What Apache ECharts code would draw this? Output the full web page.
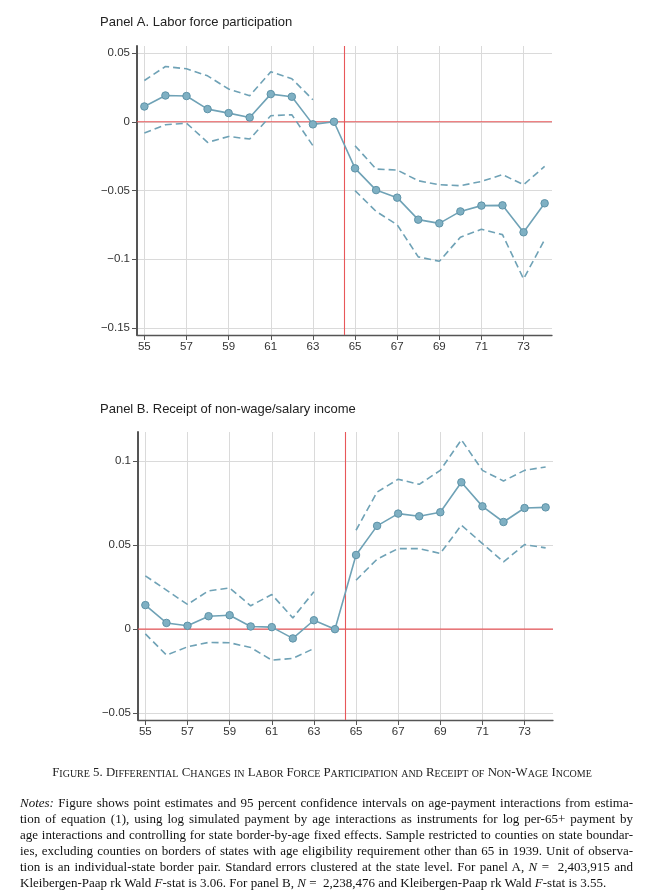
<!DOCTYPE html>
<html><head><meta charset="utf-8">
<script src="https://cdn.jsdelivr.net/npm/echarts@6/dist/echarts.min.js"></script>
<style>
html,body{margin:0;padding:0;background:#fff;}
#wrap{position:relative;width:653px;height:893px;overflow:hidden;}
#chart{position:absolute;left:0;top:0;width:653px;height:893px;}
#notes{position:absolute;left:20px;top:795px;width:613px;font-family:"Liberation Serif","Times New Roman",serif;font-size:13px;line-height:16px;color:#111;}
#notes div{text-align:justify;text-align-last:justify;white-space:nowrap;}
#notes div.last{text-align-last:left;}
</style></head>
<body><div id="wrap"><div id="chart"></div>
<div id="notes">
<div><i>Notes:</i> Figure shows point estimates and 95 percent confidence intervals on age-payment interactions from estima-</div>
<div>tion of equation (1), using log simulated payment by age interactions as instruments for log per-65+ payment by</div>
<div>age interactions and controlling for state border-by-age fixed effects. Sample restricted to counties on state boundar-</div>
<div>ies, excluding counties on borders of states with age eligibility requirement other than 65 in 1939. Unit of observa-</div>
<div>tion is an individual-state border pair. Standard errors clustered at the state level. For panel A, <i>N</i> = &nbsp;2,403,915 and</div>
<div class="last">Kleibergen-Paap rk Wald <i>F</i>-stat is 3.06. For panel B, <i>N</i> = &nbsp;2,238,476 and Kleibergen-Paap rk Wald <i>F</i>-stat is 3.55.</div>
</div></div>
<script>
// ---- data ----
const years = [55,56,57,58,59,60,61,62,63,64,65,66,67,68,69,70,71,72,73,74];
const lfpEst   = [0.0111,0.0191,0.0187,0.0092,0.0063,0.0031,0.0201,0.0182,-0.0019,0,-0.0339,-0.0497,-0.0552,-0.0712,-0.0739,-0.0652,-0.0610,-0.0608,-0.0804,-0.0593];
const lfpUpper = [0.0300,0.0402,0.0385,0.0334,0.0238,0.0189,0.0363,0.0313,0.0160,null,-0.0174,-0.0344,-0.0351,-0.0429,-0.0458,-0.0465,-0.0434,-0.0385,-0.0458,-0.0325];
const lfpLower = [-0.0082,-0.0022,-0.0010,-0.0150,-0.0107,-0.0126,0.0044,0.0051,-0.0174,null,-0.0501,-0.0652,-0.0749,-0.0983,-0.1015,-0.0840,-0.0782,-0.0821,-0.1143,-0.0858];
const incEst   = [0.0143,0.0037,0.0020,0.0077,0.0083,0.0016,0.0012,-0.0055,0.0053,0,0.0441,0.0614,0.0687,0.0671,0.0695,0.0873,0.0730,0.0637,0.0720,0.0724];
const incUpper = [0.0317,0.0232,0.0147,0.0228,0.0245,0.0139,0.0206,0.0067,0.0222,null,0.0588,0.0815,0.0891,0.0861,0.0944,0.1126,0.0944,0.0881,0.0944,0.0964];
const incLower = [-0.0028,-0.0154,-0.0105,-0.0079,-0.0081,-0.0109,-0.0184,-0.0174,-0.0115,null,0.0291,0.0416,0.0479,0.0479,0.0450,0.0618,0.0509,0.0400,0.0503,0.0483];
const xTicks = [55,57,59,61,63,65,67,69,71,73];
const yTicksA = [-0.15,-0.1,-0.05,0,0.05];
const yTicksB = [-0.05,0,0.05,0.1];
const xRange = [54.65, 74.35];
const yRangeA = [-0.1551, 0.0551];
const yRangeB = [-0.054, 0.1172];
const cutoff = 64.5;
const titleA = 'Panel A. Labor force participation';
const titleB = 'Panel B. Receipt of non-wage/salary income';
const caption = 'Figure 5. Differential Changes in Labor Force Participation and Receipt of Non-Wage Income';

// ---- styles ----
const C = '#6fa2b6', CD = '#5e93a8', RED = '#e8575a';
const sans = '"Liberation Sans", Arial, sans-serif';
const pairs = a => years.map((y,i)=>[y,a[i]]);
const fmtY = v => Math.abs(v) < 1e-9 ? '0' : (v < 0 ? '\u2212' : '') + String(+Math.abs(v).toFixed(2));

function xAxis(gi){
  return {type:'value', gridIndex:gi, min:xRange[0], max:xRange[1],
    axisLine:{show:true,onZero:false,lineStyle:{color:'#555',width:1.3}},
    axisTick:{show:true,length:5,customValues:xTicks,lineStyle:{color:'#555'}},
    axisLabel:{customValues:xTicks,margin:6,color:'#333',fontFamily:sans,fontSize:11.5,formatter:v=>String(v)},
    splitLine:{show:true,lineStyle:{color:'#dadada',width:1}}};
}
function yAxis(gi,range,ticks){
  return {type:'value', gridIndex:gi, min:range[0], max:range[1],
    axisLine:{show:true,onZero:false,lineStyle:{color:'#555',width:2}},
    axisTick:{show:true,length:5,customValues:ticks,lineStyle:{color:'#555'}},
    axisLabel:{customValues:ticks,margin:7,color:'#333',fontFamily:sans,fontSize:11.5,formatter:fmtY},
    splitLine:{show:true,lineStyle:{color:'#dadada',width:1}}};
}
function dashed(gi,arr){
  return {type:'line', xAxisIndex:gi, yAxisIndex:gi, data:pairs(arr), showSymbol:false, symbol:'none',
    connectNulls:false, lineStyle:{color:C,width:1.6,type:[7,4]}, silent:true, z:3};
}
function est(gi,arr){
  return {type:'line', xAxisIndex:gi, yAxisIndex:gi, data:pairs(arr), symbol:'circle', symbolSize:7.5,
    itemStyle:{color:'#7fb0c3',borderColor:CD,borderWidth:1}, lineStyle:{color:C,width:1.6}, z:4};
}
function refLine(gi,data){
  return {type:'line', xAxisIndex:gi, yAxisIndex:gi, data:data, symbol:'none', showSymbol:false,
    silent:true, z:2, clip:false, color:RED, itemStyle:{color:RED}, lineStyle:{color:RED,width:1.1,type:'solid'}};
}

// small caps rich text
function smallCaps(s){
  let out = '', cur = null, buf = '';
  const flush = () => { if (buf) out += '{' + cur + '|' + buf + '}'; buf = ''; };
  for (const ch of s){
    const st = (ch >= 'a' && ch <= 'z') ? 's' : 'b';
    if (st !== cur){ flush(); cur = st; }
    buf += st === 's' ? ch.toUpperCase() : ch;
  }
  flush();
  return out;
}

const chart = echarts.init(document.getElementById('chart'), null, {renderer:'canvas'});
chart.setOption({
  animation:false,
  backgroundColor:'#fff',
  title:[
    {text:titleA, left:95, top:11, textStyle:{fontFamily:sans,fontSize:13,fontWeight:'normal',color:'#222'}},
    {text:titleB, left:95, top:398, textStyle:{fontFamily:sans,fontSize:13,fontWeight:'normal',color:'#222'}}
  ],
  grid:[
    {left:137, right:101, top:46, height:289},
    {left:138, right:100, top:432, height:288}
  ],
  xAxis:[xAxis(0), xAxis(1)],
  yAxis:[yAxis(0,yRangeA,yTicksA), yAxis(1,yRangeB,yTicksB)],
  series:[
    refLine(0,[[xRange[0],0],[xRange[1],0]]), refLine(0,[[cutoff,yRangeA[0]],[cutoff,yRangeA[1]]]),
    dashed(0,lfpUpper), dashed(0,lfpLower), est(0,lfpEst),
    refLine(1,[[xRange[0],0],[xRange[1],0]]), refLine(1,[[cutoff,yRangeB[0]],[cutoff,yRangeB[1]]]),
    dashed(1,incUpper), dashed(1,incLower), est(1,incEst)
  ],
  graphic:[{
    type:'text', x:322, y:772,
    style:{text:smallCaps(caption), align:'center', verticalAlign:'middle', fill:'#222',
      rich:{
        b:{fontFamily:'"Liberation Serif", serif',fontSize:12.8,verticalAlign:'bottom',lineHeight:15,fill:'#222'},
        s:{fontFamily:'"Liberation Serif", serif',fontSize:10,verticalAlign:'bottom',lineHeight:15,fill:'#222'}
      }}
  }]
});
</script></body></html>
